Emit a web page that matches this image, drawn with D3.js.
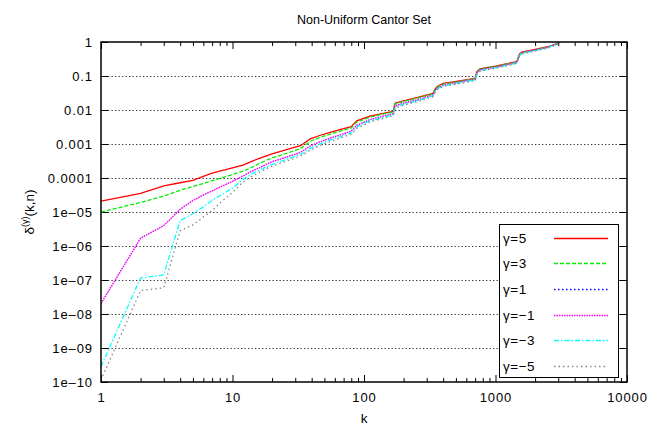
<!DOCTYPE html>
<html><head><meta charset="utf-8">
<script src="https://cdn.jsdelivr.net/npm/d3@7"></script>
<style>body{margin:0;background:#fff}svg{display:block}text{font-family:"Liberation Sans",Arial,sans-serif;fill:#000}</style>
</head><body><svg id="c" width="651" height="427"></svg>
<script>
const kValues = [1,2,3,4,5,6,7,8,10,12,14,16,20,25,29,33,35,39,46,56,70,80,84,88,111,140,167,172,200,260,335,345,360,400,520,640,700,722,760,1000,1250,1450,1520,1580,2000,2500,2980];
// log10 of delta values
const gamma5  = [-4.68,-4.45,-4.23,-4.14,-4.07,-3.95,-3.86,-3.80,-3.70,-3.62,-3.51,-3.42,-3.29,-3.18,-3.11,-3.05,-2.98,-2.85,-2.75,-2.65,-2.55,-2.49,-2.40,-2.32,-2.18,-2.10,-2.04,-1.80,-1.73,-1.62,-1.51,-1.40,-1.31,-1.22,-1.15,-1.09,-1.06,-0.87,-0.79,-0.71,-0.63,-0.58,-0.36,-0.30,-0.22,-0.14,-0.04];
const gamma3  = [-5.00,-4.72,-4.53,-4.36,-4.25,-4.16,-4.08,-4.01,-3.90,-3.80,-3.69,-3.57,-3.41,-3.29,-3.21,-3.13,-3.06,-2.92,-2.81,-2.70,-2.59,-2.53,-2.44,-2.36,-2.21,-2.12,-2.06,-1.82,-1.75,-1.64,-1.53,-1.42,-1.33,-1.24,-1.17,-1.10,-1.08,-0.89,-0.80,-0.72,-0.64,-0.59,-0.37,-0.31,-0.23,-0.15,-0.04];
const gamma1  = [-7.69,-5.77,-5.40,-4.92,-4.66,-4.50,-4.38,-4.27,-4.10,-3.94,-3.80,-3.70,-3.52,-3.40,-3.32,-3.24,-3.18,-3.06,-2.94,-2.82,-2.70,-2.62,-2.53,-2.45,-2.28,-2.18,-2.11,-1.88,-1.80,-1.69,-1.56,-1.45,-1.36,-1.27,-1.19,-1.12,-1.10,-0.91,-0.82,-0.74,-0.66,-0.60,-0.39,-0.32,-0.24,-0.16,-0.05];
const gammaM1 = [-7.69,-5.77,-5.40,-4.92,-4.66,-4.50,-4.38,-4.27,-4.10,-3.94,-3.80,-3.70,-3.52,-3.40,-3.32,-3.24,-3.18,-3.06,-2.94,-2.82,-2.70,-2.62,-2.53,-2.45,-2.28,-2.18,-2.11,-1.88,-1.80,-1.69,-1.56,-1.45,-1.36,-1.27,-1.19,-1.12,-1.10,-0.91,-0.82,-0.74,-0.66,-0.60,-0.39,-0.32,-0.24,-0.16,-0.05];
const gammaM3 = [-9.55,-6.94,-6.85,-5.25,-5.05,-4.85,-4.66,-4.52,-4.30,-4.04,-3.88,-3.77,-3.60,-3.47,-3.38,-3.30,-3.25,-3.13,-3.00,-2.87,-2.75,-2.67,-2.59,-2.50,-2.32,-2.22,-2.14,-1.92,-1.83,-1.72,-1.59,-1.48,-1.38,-1.29,-1.21,-1.14,-1.12,-0.94,-0.84,-0.76,-0.68,-0.62,-0.41,-0.34,-0.25,-0.17,-0.05];
const gammaM5 = [-9.94,-7.31,-7.23,-5.55,-5.38,-5.15,-4.96,-4.74,-4.42,-4.12,-3.96,-3.83,-3.65,-3.52,-3.43,-3.35,-3.30,-3.18,-3.05,-2.92,-2.79,-2.71,-2.63,-2.54,-2.35,-2.25,-2.16,-1.95,-1.86,-1.74,-1.61,-1.50,-1.40,-1.31,-1.23,-1.16,-1.13,-0.95,-0.86,-0.77,-0.69,-0.63,-0.42,-0.35,-0.26,-0.18,-0.06];
const seriesNames = ["γ=5","γ=3","γ=1","γ=−1","γ=−3","γ=−5"];
const seriesColors = ["#ff0000","#00ee00","#0000ff","#ff00ff","#00ffff","#888888"];
const seriesDash = ["none","4,2","1.5,2.5","1.5,1","5,2,1.5,2","1.5,3,1.5,3"];
const seriesLog = [gamma5,gamma3,gamma1,gammaM1,gammaM3,gammaM5];
const drawOrder = [2,0,1,3,4,5];
const yTickLabels = ["1e-10","1e-09","1e-08","1e-07","1e-06","1e-05","0.0001","0.001","0.01","0.1","1"];
const xTickLabels = ["1","10","100","1000","10000"];

const svg = d3.select("#c");
const L=101,R=627,T=42,B=382;
const x = d3.scaleLog().domain([1,10000]).range([L,R]);
const y = d3.scaleLog().domain([1e-10,1]).range([B,T]);

svg.append("text").attr("x",(L+R)/2).attr("y",24).attr("text-anchor","middle").attr("font-size",12.5).text("Non-Uniform Cantor Set");

const yTicks = yTickLabels.map(Number);
const xTicks = xTickLabels.map(Number);
// grid
svg.append("g").selectAll("line").data(yTicks.slice(1,-1)).join("line")
  .attr("x1",L).attr("x2",R).attr("y1",d=>Math.round(y(d))+0.5).attr("y2",d=>Math.round(y(d))+0.5)
  .attr("stroke","#000").attr("stroke-width",1).attr("stroke-dasharray","1.3,2.2").attr("opacity",0.8);

// axes via d3
const minor=[];for(let e=0;e<4;e++)for(let m=2;m<=9;m++)minor.push(m*Math.pow(10,e));
const gx=svg.append("g").attr("transform",`translate(0,${B})`).call(d3.axisBottom(x).tickValues(xTicks).tickFormat((d,i)=>xTickLabels[i]).tickSize(-7).tickPadding(11));
const gxm=svg.append("g").attr("transform",`translate(0,${B})`).call(d3.axisBottom(x).tickValues(minor).tickFormat("").tickSize(-4));
const gxt=svg.append("g").attr("transform",`translate(0,${T})`).call(d3.axisTop(x).tickValues(xTicks).tickFormat("").tickSize(-7));
const gxtm=svg.append("g").attr("transform",`translate(0,${T})`).call(d3.axisTop(x).tickValues(minor).tickFormat("").tickSize(-4));
const gy=svg.append("g").attr("transform",`translate(${L},0)`).call(d3.axisLeft(y).tickValues(yTicks).tickFormat((d,i)=>yTickLabels[i]).tickSize(-7).tickPadding(8));
const gyr=svg.append("g").attr("transform",`translate(${R},0)`).call(d3.axisRight(y).tickValues(yTicks).tickFormat("").tickSize(-7));
[gx,gxm,gxt,gxtm,gy,gyr].forEach(g=>{g.select(".domain").remove();g.selectAll("line").attr("stroke","#000");g.selectAll("text").attr("font-size",13).attr("letter-spacing","0.9px").attr("font-family","Liberation Sans, Arial, sans-serif").style("fill","#000");});
gy.selectAll("text").text(function(){return this.textContent.replace("-","\u2013");});

svg.append("clipPath").attr("id","pc").append("rect").attr("x",L).attr("y",T-1).attr("width",R-L).attr("height",B-T+1);
const line = d3.line().x(d=>x(d[0])).y(d=>y(d[1]));
const plotG = svg.append("g").attr("clip-path","url(#pc)");
drawOrder.forEach(i=>{
  const s = seriesLog[i];
  const pts = kValues.map((k,j)=>[k,Math.pow(10,s[j])]);
  plotG.append("path").datum(pts).attr("d",line).attr("fill","none").style("stroke",seriesColors[i])
    .attr("stroke-width",i===2?0.4:(i===3?1.4:1.3)).attr("stroke-dasharray",i===2?"1.5,1":seriesDash[i]);
});

// legend
const lg = svg.append("g");
lg.append("rect").attr("x",499.5).attr("y",224.5).attr("width",119).attr("height",153).attr("fill","#fff").attr("stroke","#000").attr("stroke-width",1);
seriesNames.forEach((n,i)=>{
  const yy = 237.5 + i*25.7;
  lg.append("text").attr("x",503).attr("y",yy+5).attr("font-size",13.5).attr("letter-spacing","0.5px").text(n);
  lg.append("line").attr("x1",554).attr("x2",608).attr("y1",Math.round(yy)+0.5).attr("y2",Math.round(yy)+0.5).style("stroke",seriesColors[i]).attr("stroke-width",1.3).attr("stroke-dasharray",seriesDash[i]);
});

// frame
svg.append("rect").attr("x",L).attr("y",T).attr("width",R-L).attr("height",B-T).attr("fill","none").attr("stroke","#000").attr("stroke-width",1.5);

// axis labels
svg.append("text").attr("x",(L+R)/2).attr("y",423).attr("text-anchor","middle").attr("font-size",13.5).text("k");
const yl = svg.append("text").attr("transform","translate(34,212) rotate(-90)").attr("text-anchor","middle").attr("font-size",13.5);
yl.append("tspan").text("δ");
yl.append("tspan").attr("font-size",9).attr("dy",-6).text("(γ)");
yl.append("tspan").attr("dy",6).text("(k,n)");
</script></body></html>
